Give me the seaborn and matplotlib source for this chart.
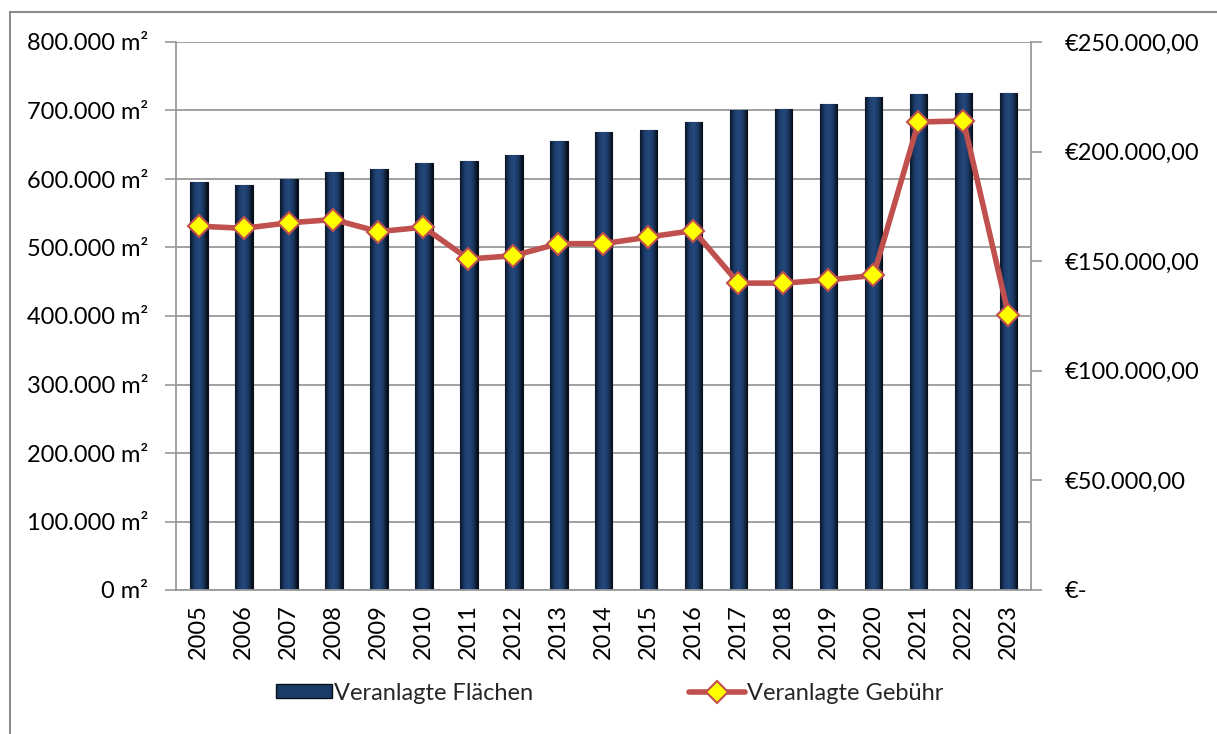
import numpy as np
import pandas as pd
import matplotlib
matplotlib.use("Agg")
import matplotlib.pyplot as plt
import matplotlib.ticker as mticker
from matplotlib.patches import Rectangle, Patch
from matplotlib.lines import Line2D
from matplotlib.colors import LinearSegmentedColormap
import seaborn as sns

# ---- data ----
years = [str(y) for y in range(2005, 2024)]
flaechen = [595000, 591000, 600000, 610000, 614000, 623000, 627000, 635000,
            656000, 669000, 672000, 683000, 701000, 702000, 710000, 720000,
            724000, 726000, 726000]
gebuehr = [166000, 165000, 167500, 169000, 163500, 165500, 151000, 152500,
           158000, 158000, 161000, 164000, 140000, 140000, 141500, 143500,
           213500, 214000, 125500]
left_ticks = list(range(0, 800001, 100000))
right_ticks = list(range(0, 250001, 50000))
label_flaechen = "Veranlagte Flächen"
label_gebuehr = "Veranlagte Gebühr"

sns.set_theme(style="white")
plt.rcParams['font.family'] = ['Lato', 'DejaVu Sans']
FS = 17
GRID = "#9a9a9a"
BAR = "#1c3a66"
LINE = "#C0504D"

W, H = 1217, 734
fig = plt.figure(figsize=(W / 100, H / 100), dpi=100)
ax = fig.add_axes([176 / W, 1 - 590 / H, (1031 - 176) / W, (590 - 42) / H])

df = pd.DataFrame({"Jahr": years, "Fläche": flaechen, "Gebühr": gebuehr})
sns.barplot(data=df, x="Jahr", y="Fläche", color=BAR, saturation=1, width=0.4,
            edgecolor="#07101d", linewidth=0.8, ax=ax, zorder=2)

# shaded cylinder look on each bar
shade = LinearSegmentedColormap.from_list(
    "shade", ["#0a1628", "#1d3d6c", "#24497e", "#1a3760", "#050b14"])
grad = np.linspace(0, 1, 64).reshape(1, -1)
for p in ax.patches:
    x0, y0 = p.get_x(), p.get_y()
    w, h = p.get_width(), p.get_height()
    im = ax.imshow(grad, cmap=shade, extent=(x0, x0 + w, y0, y0 + h),
                   aspect="auto", origin="lower", zorder=2.5, interpolation="bilinear")
    im.set_clip_path(p)

ax.set_xlim(-0.5, len(years) - 0.5)
ax.set_ylim(0, 800000)
ax.set_yticks(left_ticks)
ax.yaxis.set_major_formatter(mticker.FuncFormatter(
    lambda v, _: f"{v:,.0f}".replace(",", ".") + " m²"))
ax.set_xticks(range(len(years)))
ax.set_xticklabels(years, rotation=90, fontsize=FS)
ax.set_xticks(np.arange(-0.5, len(years)), minor=True)
ax.tick_params(axis="x", which="major", length=0, pad=10, labelsize=FS, colors="black")
ax.tick_params(axis="x", which="minor", length=7, width=1.2, color=GRID, direction="out")
ax.tick_params(axis="y", length=8, width=1.2, color=GRID, direction="out", pad=12,
               labelsize=FS, labelcolor="black", left=True)
ax.yaxis.grid(True, color=GRID, linewidth=1.3)
ax.set_axisbelow(True)
ax.set_xlabel("")
ax.set_ylabel("")
for s in ["top", "right"]:
    ax.spines[s].set_visible(False)
for s in ["left", "bottom"]:
    ax.spines[s].set_color(GRID)
    ax.spines[s].set_linewidth(1.3)

# secondary axis: fee line
ax2 = ax.twinx()
sns.lineplot(x=np.arange(len(years)), y=gebuehr, ax=ax2, color=LINE, linewidth=4,
             marker="D", markersize=11, markerfacecolor="#FFFF00",
             markeredgecolor=LINE, markeredgewidth=1.5, zorder=5)
ax2.set_ylim(0, 250000)
ax2.set_yticks(right_ticks)
ax2.yaxis.set_major_formatter(mticker.FuncFormatter(
    lambda v, _: "€-" if v == 0 else "€" + f"{v:,.2f}".replace(",", "X").replace(".", ",").replace("X", ".")))
ax2.tick_params(axis="y", length=8, width=1.2, color=GRID, direction="out", pad=16,
                labelsize=FS, labelcolor="black", right=True)
ax2.set_ylabel("")
for s in ["top", "left", "bottom"]:
    ax2.spines[s].set_visible(False)
ax2.spines["right"].set_color(GRID)
ax2.spines["right"].set_linewidth(1.3)
ax.set_xlim(-0.5, len(years) - 0.5)

# legend below the chart
handles = [
    Patch(facecolor=BAR, edgecolor="#07101d", linewidth=1.0),
    Line2D([0], [0], color=LINE, linewidth=4, marker="D", markersize=11,
           markerfacecolor="#FFFF00", markeredgecolor=LINE, markeredgewidth=1.5),
]
fig.legend(handles, [label_flaechen, label_gebuehr], loc="center",
           bbox_to_anchor=(610 / W, 1 - 693 / H), ncol=2, frameon=False,
           fontsize=FS, handlelength=2.35, handleheight=0.55, handletextpad=0.1,
           columnspacing=6.6)

# outer chart frame
fig.add_artist(Rectangle((10 / W, -0.1), 1.2, 1 - 12 / H + 0.1,
                         transform=fig.transFigure, fill=False,
                         edgecolor="#8c8c8c", linewidth=1.5))

fig.savefig("out.png", dpi=100)
